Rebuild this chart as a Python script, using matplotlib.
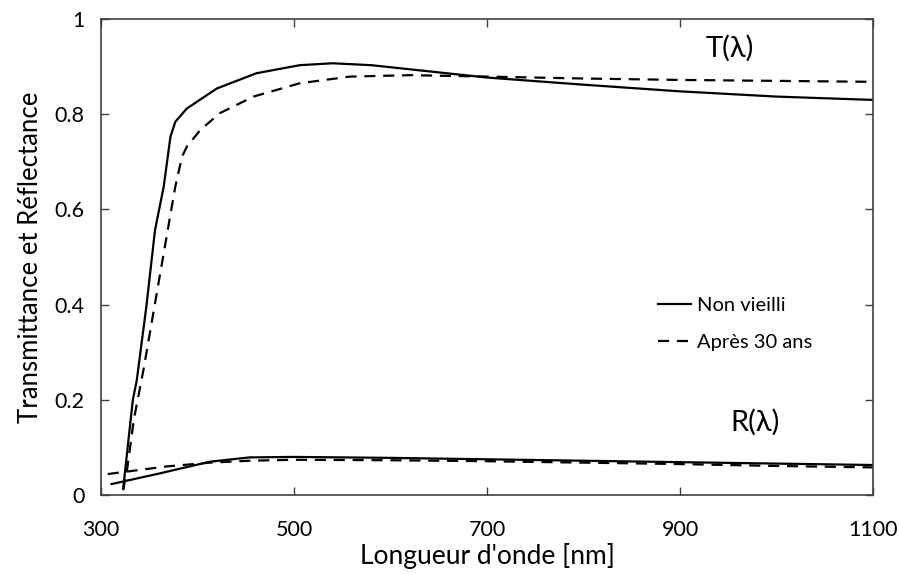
import matplotlib
matplotlib.use("Agg")
import matplotlib.pyplot as plt

plt.rcParams['font.family'] = ['Lato', 'DejaVu Sans']

# T(lambda), non vieilli
t_new_x = [323, 333, 337, 347, 356, 365, 372, 377, 389, 420, 461, 506, 540, 580, 640, 700, 800, 900, 1000, 1100]
t_new_y = [0.014, 0.20, 0.24, 0.396, 0.557, 0.648, 0.753, 0.784, 0.812, 0.854, 0.886, 0.903, 0.907, 0.903, 0.89, 0.877, 0.862, 0.848, 0.837, 0.830]

# T(lambda), apres 30 ans
t_old_x = [323, 327, 334, 344, 359, 368, 377, 384, 389, 403, 423, 458, 506, 558, 620, 700, 800, 900, 1000, 1100]
t_old_y = [0.01, 0.053, 0.158, 0.263, 0.438, 0.543, 0.648, 0.711, 0.732, 0.767, 0.802, 0.837, 0.865, 0.879, 0.882, 0.879, 0.875, 0.872, 0.870, 0.868]

# R(lambda), non vieilli
r_new_x = [311, 360, 413, 454, 500, 600, 700, 800, 900, 1000, 1100]
r_new_y = [0.023, 0.045, 0.070, 0.079, 0.080, 0.078, 0.075, 0.072, 0.069, 0.066, 0.063]

# R(lambda), apres 30 ans
r_old_x = [307, 368, 413, 454, 500, 600, 700, 800, 900, 1000, 1100]
r_old_y = [0.044, 0.060, 0.068, 0.072, 0.074, 0.073, 0.071, 0.068, 0.065, 0.061, 0.058]

x_ticks = [300, 500, 700, 900, 1100]
y_ticks = [0, 0.2, 0.4, 0.6, 0.8, 1]
y_tick_labels = ['0', '0.2', '0.4', '0.6', '0.8', '1']

fig = plt.figure(figsize=(8.99, 5.74), dpi=100)
ax = fig.add_axes([101 / 899, 79 / 574, 772 / 899, 476 / 574])

dash = (5, 3.5)
ax.plot(t_new_x, t_new_y, color='black', lw=1.6, label='Non vieilli')
ax.plot(t_old_x, t_old_y, color='black', lw=1.6, dashes=dash, label='Après 30 ans')
ax.plot(r_new_x, r_new_y, color='black', lw=1.6)
ax.plot(r_old_x, r_old_y, color='black', lw=1.6, dashes=dash)

ax.set_xlim(300, 1100)
ax.set_ylim(0, 1)
ax.set_xticks(x_ticks)
ax.set_yticks(y_ticks)
ax.set_yticklabels(y_tick_labels)
ax.tick_params(direction='in', length=6, width=1, color='#404040',
               top=True, right=True, labelsize=15.5)
ax.tick_params(axis='x', pad=18)
ax.tick_params(axis='y', pad=12)
for s in ax.spines.values():
    s.set_color('#404040')
    s.set_linewidth(1.2)

ax.set_xlabel("Longueur d'onde [nm]", fontsize=19, labelpad=2)
ax.set_ylabel("Transmittance et Réflectance", fontsize=18.5, labelpad=8)

ax.text(952, 0.939, 'T(λ)', fontsize=21, ha='center', va='center')
ax.text(978, 0.153, 'R(λ)', fontsize=21, ha='center', va='center')

ax.legend(loc='center left', bbox_to_anchor=(640 / 899, 1 - 324 / 574),
          bbox_transform=fig.transFigure, frameon=False, fontsize=14.5,
          handlelength=1.65, handletextpad=0.3, labelspacing=0.95)

fig.savefig('out.png', dpi=100)
